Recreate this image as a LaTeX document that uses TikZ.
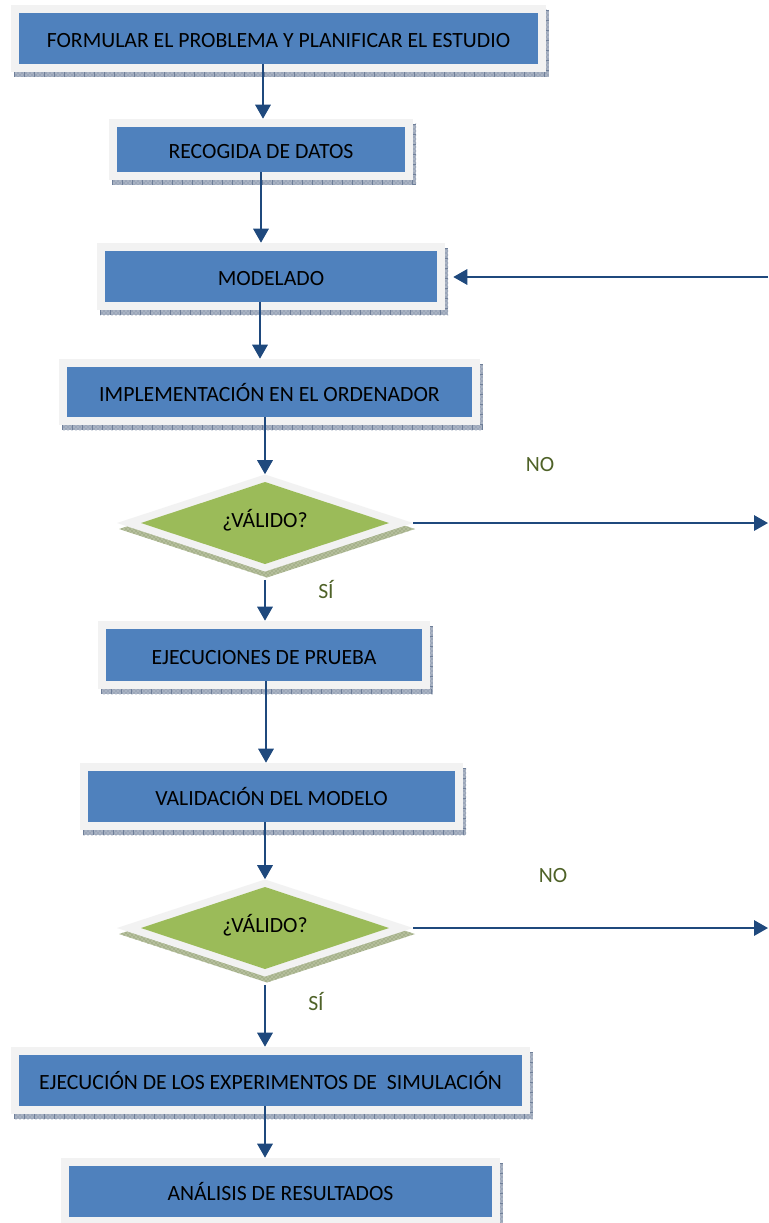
\documentclass[tikz,border=0pt]{standalone}
\usepackage{fontspec}
\setmainfont{Carlito}
\usetikzlibrary{arrows.meta,patterns}

\definecolor{boxblue}{HTML}{4F81BD}
\definecolor{diagreen}{HTML}{9BBB59}
\definecolor{framegray}{HTML}{F2F2F2}
\definecolor{shadowblue}{HTML}{A9B3C3}
\definecolor{shadowblueline}{HTML}{6F7F99}
\definecolor{shadowgreen}{HTML}{B5BF9C}
\definecolor{shadowgreenline}{HTML}{77865A}
\definecolor{arrowblue}{HTML}{1F497D}
\definecolor{labelolive}{HTML}{4F6228}

\tikzset{
  x=0.75pt, y=-0.75pt,
  every node/.style={font=\fontsize{16.3}{19}\selectfont},
  framebox/.style={fill=framegray, inner sep=0pt},
  procbox/.style={fill=boxblue, inner sep=0pt, text height=13.5pt, text depth=0pt, text=black},
  connector/.style={draw=arrowblue, line width=1.6pt, -{Triangle[length=10.5pt,width=11.5pt]}},
  branchlabel/.style={text=labelolive},
  shadowticks/.style={draw=shadowblueline, dash pattern=on 0.75pt off 6.75pt},
}

% process step: name, inner x1, y1, x2, y2 (px), text
\newcommand\stepbox[6]{%
  \fill[shadowblue] ({#2-5},{#3-3}) rectangle ({#4+11},{#5+13});
  \fill[pattern=crosshatch dots, pattern color=shadowblueline] ({#2-5},{#3-3}) rectangle ({#4+11},{#5+13});
  \draw[shadowticks, line width=3.5pt] ({#2-5},{#5+10.5}) -- ({#4+11},{#5+10.5});
  \draw[shadowticks, line width=2.2pt] ({#4+9.5},{#3-3}) -- ({#4+9.5},{#5+13});
  \node[framebox, minimum width={(#4-#2+16)*0.75pt}, minimum height={(#5-#3+16)*0.75pt}]
    (f#1) at ({(#2+#4)/2},{(#3+#5)/2}) {};
  \node[procbox, minimum width={(#4-#2)*0.75pt}, minimum height={(#5-#3)*0.75pt}]
    (b#1) at ({(#2+#4)/2},{(#3+#5)/2}) {#6};
}

% decision diamond: name, centre x, centre y (px)
\newcommand\decision[3]{%
  \fill[shadowgreen] ({#2-148+2},{#3+6}) -- ({#2+2},{#3-48.5+6}) -- ({#2+148+2},{#3+6}) -- ({#2+2},{#3+48.5+6}) -- cycle;
  \fill[pattern=crosshatch dots, pattern color=shadowgreenline] ({#2-148+2},{#3+6}) -- ({#2+2},{#3-48.5+6}) -- ({#2+148+2},{#3+6}) -- ({#2+2},{#3+48.5+6}) -- cycle;
  \fill[framegray] ({#2-148},{#3}) -- ({#2},{#3-48.5}) -- ({#2+148},{#3}) -- ({#2},{#3+48.5}) -- cycle;
  \fill[diagreen] ({#2-124},{#3}) -- ({#2},{#3-41}) -- ({#2+124},{#3}) -- ({#2},{#3+41}) -- cycle;
  \node[inner sep=0pt, minimum width={296*0.75pt}, minimum height={97*0.75pt}] (d#1) at (#2,#3) {};
  \node[anchor=base, inner sep=0pt] (t#1) at (#2,{#3+4}) {¿VÁLIDO?};
}

\begin{document}
\begin{tikzpicture}
\useasboundingbox (0,0) rectangle (768,1223);
\fill[white] (0,0) rectangle (768,1223);

\stepbox{1}{19}{13}{538}{64}{FORMULAR EL PROBLEMA Y PLANIFICAR EL ESTUDIO}
\stepbox{2}{117}{127}{405}{172}{RECOGIDA DE DATOS}
\stepbox{3}{105}{251}{437}{302}{MODELADO}
\stepbox{4}{67}{367}{472}{417}{IMPLEMENTACIÓN EN EL ORDENADOR}
\decision{1}{265}{523}
\stepbox{5}{106}{629}{422}{681}{EJECUCIONES DE PRUEBA}
\stepbox{6}{88}{771}{455}{822}{VALIDACIÓN DEL MODELO}
\decision{2}{265}{928}
\stepbox{7}{19}{1055}{522}{1106}{EJECUCIÓN DE LOS EXPERIMENTOS DE\ \ SIMULACIÓN}
\stepbox{8}{69}{1166}{492}{1217}{ANÁLISIS DE RESULTADOS}

% vertical axes of the downward connectors
\coordinate (ax1) at (263,0);
\coordinate (ax2) at (261,0);
\coordinate (ax3) at (260,0);
\coordinate (ax4) at (265,0);
\coordinate (ax5) at (266,0);

\draw[connector] (b1.south -| ax1) -- (f2.north -| ax1);
\draw[connector] (b2.south -| ax2) -- (f3.north -| ax2);
\draw[connector] (b3.south -| ax3) -- (f4.north -| ax3);
\draw[connector] (b4.south -| ax4) -- (d1.north);
\draw[connector] ([yshift=-8*0.75pt]d1.south) -- (f5.north -| ax4);
\draw[connector] (b5.south -| ax5) -- (f6.north -| ax5);
\draw[connector] (b6.south -| ax4) -- (d2.north);
\draw[connector] ([yshift=-8*0.75pt]d2.south) -- (f7.north -| ax4);
\draw[connector] (b7.south -| ax4) -- (f8.north -| ax4);

% "NO" branches leave to the right; the return enters MODELADO
\coordinate (out1) at (768,523);
\coordinate (out2) at (768,928);
\coordinate (back) at (768,277);
\draw[connector] (d1.east) -- (out1);
\draw[connector] (d2.east) -- (out2);
\draw[connector, shorten >=8*0.75pt] (back) -- (f3.east |- back);

\node[branchlabel] (no1) at (540,465) {NO};
\node[branchlabel] (no2) at (553,876) {NO};
\node[branchlabel] (si1) at (326,589) {SÍ};
\node[branchlabel] (si2) at (316,1001) {SÍ};
\end{tikzpicture}
\end{document}
